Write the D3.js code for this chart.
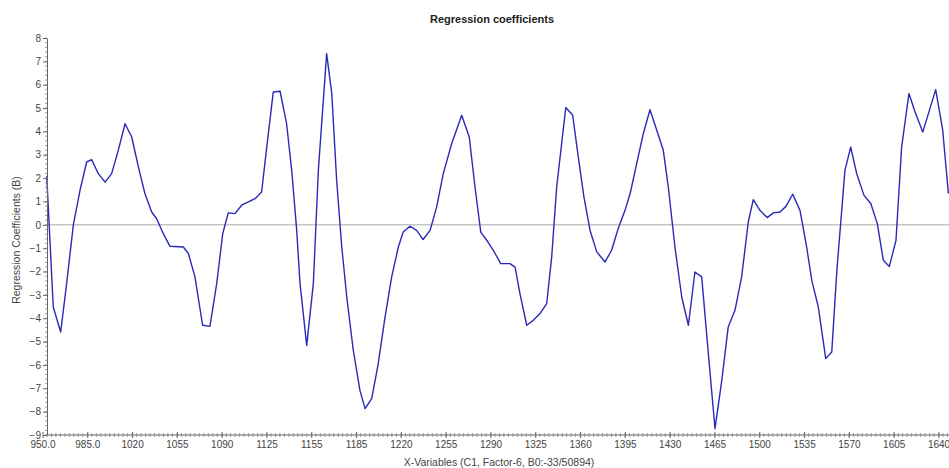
<!DOCTYPE html>
<html>
<head>
<meta charset="utf-8">
<script src="https://cdn.jsdelivr.net/npm/d3@7"></script>
<style>
  body { margin: 0; background: #fff; }
  svg { display: block; font-family: "Liberation Sans", Arial, sans-serif; }
</style>
</head>
<body>
<svg id="chart"></svg>
<script>
// x variables (wavenumber units)
const xs = [
  953.3, 958.4, 964.2, 968.9, 974.1, 979.3, 984.5, 988.4, 993.6, 998.9,
  1004.0, 1009.2, 1014.5, 1019.7, 1024.9, 1030.0, 1035.3, 1039.2, 1044.4, 1049.6,
  1060.0, 1064.0, 1069.1, 1075.1, 1080.8, 1086.1, 1090.8, 1095.1, 1100.4, 1105.6,
  1112.1, 1116.1, 1121.2, 1125.2, 1130.3, 1135.6, 1140.7, 1144.7, 1148.6, 1151.2,
  1156.4, 1161.6, 1165.5, 1172.0, 1176.0, 1179.8, 1183.8, 1187.7, 1192.8, 1198.0,
  1202.0, 1207.2, 1212.3, 1217.6, 1222.8, 1228.0, 1231.8, 1237.1, 1242.3, 1247.3,
  1252.8, 1257.9, 1263.1, 1269.7, 1277.5, 1283.4, 1287.9, 1292.4, 1297.0, 1302.2,
  1308.0, 1315.2, 1319.2, 1323.0, 1328.3, 1333.4, 1338.7, 1343.9, 1347.8, 1351.7,
  1358.8, 1364.2, 1368.6, 1373.0, 1377.8, 1383.0, 1389.5, 1394.6, 1399.8, 1405.1,
  1409.1, 1414.2, 1419.4, 1424.6, 1429.9, 1435.0, 1438.9, 1444.1, 1449.4, 1454.6,
  1459.7, 1465.0, 1470.2, 1475.4, 1480.7, 1485.7, 1491.0, 1496.2, 1501.4, 1505.3,
  1510.5, 1516.2, 1521.0, 1526.2, 1530.8, 1536.1, 1541.8, 1547.0, 1551.0, 1556.1,
  1561.9, 1566.6, 1570.6, 1574.4, 1576.9, 1581.4, 1586.1, 1591.8, 1597.1, 1602.2,
  1606.9, 1611.6, 1616.8, 1621.2, 1626.9, 1631.7, 1637.7, 1642.9, 1647.8, 1653.3,
  1657.7
];

// regression coefficients (B)
const coefs = [
  2.1, -3.52, -4.59, -2.5, 0.0, 1.48, 2.69, 2.79, 2.19, 1.83,
  2.19, 3.19, 4.33, 3.76, 2.48, 1.34, 0.55, 0.26, -0.38, -0.92,
  -0.95, -1.23, -2.23, -4.30, -4.35, -2.52, -0.38, 0.51, 0.48, 0.84,
  1.02, 1.12, 1.41, 3.33, 5.69, 5.72, 4.33, 2.33, -0.24, -2.52,
  -5.16, -2.52, 2.33, 7.33, 5.62, 1.91, -0.95, -3.09, -5.37, -7.09,
  -7.87, -7.44, -5.94, -3.95, -2.23, -0.95, -0.31, -0.06, -0.24, -0.63,
  -0.24, 0.76, 2.19, 3.48, 4.69, 3.76, 1.62, -0.31, -0.66, -1.09,
  -1.66, -1.66, -1.81, -2.95, -4.30, -4.09, -3.80, -3.37, -1.38, 1.62,
  5.02, 4.69, 2.90, 1.19, -0.24, -1.16, -1.59, -1.09, -0.16, 0.62,
  1.34, 2.62, 3.91, 4.93, 4.05, 3.19, 1.62, -0.95, -3.09, -4.30,
  -2.02, -2.23, -5.52, -8.73, -6.66, -4.38, -3.66, -2.23, 0.12, 1.08,
  0.62, 0.31, 0.51, 0.55, 0.79, 1.31, 0.62, -0.95, -2.38, -3.52,
  -5.73, -5.45, -1.95, 0.62, 2.33, 3.33, 2.19, 1.26, 0.91, 0.05,
  -1.52, -1.78, -0.66, 3.33, 5.62, 4.83, 3.97, 4.90, 5.79, 4.05,
  1.34
];

const xTickValues = [950, 985, 1020, 1055, 1090, 1125, 1160, 1195, 1230, 1265,
  1300, 1335, 1370, 1405, 1440, 1475, 1510, 1545, 1580, 1615, 1650];
const xTickLabels = ["950.0", "985.0", "1020", "1055", "1090", "1125", "1155", "1185",
  "1220", "1255", "1290", "1325", "1360", "1395", "1430", "1465", "1500", "1535",
  "1570", "1605", "1640"];
const yTickValues = d3.range(-9, 9);

const width = 949, height = 468;
const plotLeft = 47, plotTop = 38, plotBottom = 435;

const svg = d3.select('#chart')
    .attr('width', width)
    .attr('height', height);

const xscale = d3.scaleLinear()
    .domain([950, 1660])
    .range([42.5, 951.3]);

const yscale = d3.scaleLinear()
    .domain([-9, 8])
    .range([plotBottom, plotTop]);

// zero line
svg.append('line')
    .attr('x1', plotLeft).attr('x2', width)
    .attr('y1', yscale(0)).attr('y2', yscale(0))
    .attr('stroke', '#a8a8a8')
    .attr('stroke-width', 1);

// coefficient curve
const line = d3.line()
    .x((d, i) => xscale(xs[i]))
    .y(d => yscale(d));

svg.append('path')
    .datum(coefs)
    .attr('d', line)
    .attr('fill', 'none')
    .attr('stroke', '#2a2ab8')
    .attr('stroke-width', 1.4)
    .attr('stroke-linejoin', 'round');

// y axis
const yaxis = d3.axisLeft(yscale)
    .tickValues(yTickValues)
    .tickFormat(d3.format('d'))
    .tickSize(4)
    .tickSizeOuter(0);

const ygroup = svg.append('g')
    .attr('transform', `translate(${plotLeft},0)`)
    .call(yaxis);

ygroup.selectAll('.tick line').attr('stroke', '#666');
ygroup.selectAll('.tick text')
    .attr('fill', '#444')
    .attr('font-size', 10)
    .attr('x', -6);
ygroup.select('.domain').attr('stroke', '#666');

// y minor ticks
svg.append('g')
    .selectAll('line')
    .data(d3.range(-9, 8.01, 0.2))
    .join('line')
    .attr('x1', plotLeft - 2).attr('x2', plotLeft)
    .attr('y1', d => yscale(d)).attr('y2', d => yscale(d))
    .attr('stroke', '#777')
    .attr('stroke-width', 0.7);

// x axis
const xaxis = d3.axisBottom(xscale)
    .tickValues(xTickValues)
    .tickFormat((d, i) => xTickLabels[i])
    .tickSize(3)
    .tickSizeOuter(0);

const xgroup = svg.append('g')
    .attr('transform', `translate(0,${plotBottom})`)
    .call(xaxis);

xgroup.select('.domain').remove();
xgroup.selectAll('.tick line').attr('stroke', '#666').attr('y1', -3);
xgroup.selectAll('.tick text')
    .attr('fill', '#444')
    .attr('font-size', 10)
    .attr('y', 6);

svg.append('line')
    .attr('x1', plotLeft).attr('x2', width)
    .attr('y1', plotBottom).attr('y2', plotBottom)
    .attr('stroke', '#666');

// x minor ticks
svg.append('g')
    .selectAll('line')
    .data(d3.range(953.5, 1660, 3.5))
    .join('line')
    .attr('x1', d => xscale(d)).attr('x2', d => xscale(d))
    .attr('y1', plotBottom - 2).attr('y2', plotBottom + 2)
    .attr('stroke', '#777')
    .attr('stroke-width', 0.7);

// titles
svg.append('text')
    .attr('x', 492).attr('y', 23)
    .attr('text-anchor', 'middle')
    .attr('font-size', 11)
    .attr('font-weight', 'bold')
    .attr('fill', '#222')
    .text('Regression coefficients');

svg.append('text')
    .attr('x', 499).attr('y', 466)
    .attr('text-anchor', 'middle')
    .attr('font-size', 10.5)
    .attr('fill', '#444')
    .text('X-Variables (C1, Factor-6, B0:-33/50894)');

svg.append('text')
    .attr('transform', 'translate(20,240) rotate(-90)')
    .attr('text-anchor', 'middle')
    .attr('font-size', 10.5)
    .attr('fill', '#444')
    .text('Regression Coefficients (B)');
</script>
</body>
</html>
